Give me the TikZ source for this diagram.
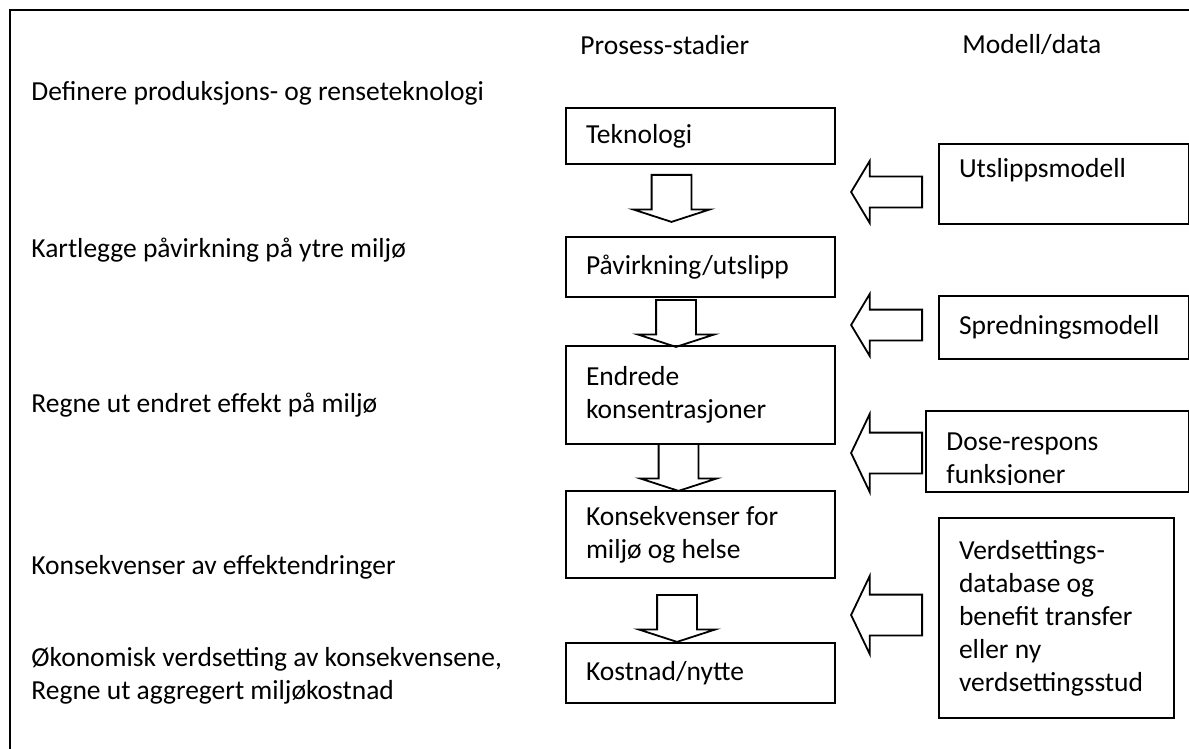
\documentclass[tikz,border=0pt]{standalone}
\usepackage{fontspec}
\setmainfont{Carlito}
\usetikzlibrary{shapes.arrows}

\tikzset{
    boks/.style={draw, line width=1pt, rectangle, anchor=north west, align=flush left, inner xsep=10pt, inner ysep=0pt},
    tekst/.style={anchor=west, align=flush left, inner sep=0pt},
    nedpil/.style={draw, line width=0.9pt, single arrow, rotate=-90, anchor=tail, inner xsep=0pt, inner ysep=9.5pt,
        single arrow head extend=9.25pt, single arrow tip angle=144, minimum height=23.5pt},
    smalpil/.style={draw, line width=0.9pt, single arrow, rotate=180, anchor=tail, inner xsep=0pt, inner ysep=7.25pt,
        single arrow head extend=7.75pt, single arrow tip angle=118, minimum height=35.5pt},
    breipil/.style={draw, line width=0.9pt, single arrow, rotate=180, anchor=tail, inner xsep=0pt, inner ysep=9.75pt,
        single arrow head extend=9.25pt, single arrow tip angle=129, minimum height=35.5pt}
}

\begin{document}
\begin{tikzpicture}[x=0.5pt,y=-0.5pt,every node/.style={font=\fontsize{13.75}{16.5}\selectfont}]
    \useasboundingbox (0,0) rectangle (1189,749);
    \clip (0,0) rectangle (1189,749);
    \draw[line width=1pt] (10,10) rectangle (1220,780);

    % overskrifter
    \node[tekst] (hprosess) at (580,45) {Prosess-stadier};
    \node[tekst] (hmodell) at (962,45) {Modell/data};

    % trinn til venstre
    \node[tekst] (trinn1) at (31,93) {Definere produksjons- og renseteknologi};
    \node[tekst] (trinn2) at (31,250) {Kartlegge påvirkning på ytre miljø};
    \node[tekst] (trinn3) at (31,405) {Regne ut endret effekt på miljø};
    \node[tekst] (trinn4) at (31,567) {Konsekvenser av effektendringer};
    \node[tekst] (trinn5) at (31,676) {Økonomisk verdsetting av konsekvensene,\\Regne ut aggregert miljøkostnad};

    % prosess-stadier
    \node[boks, text width=114.5pt, minimum height=28pt] (tek) at (565,107) {Teknologi};
    \node[boks, text width=114.5pt, minimum height=30pt] (pav) at (565,236) {Påvirkning/utslipp};
    \node[boks, text width=114.5pt, minimum height=49pt] (endr) at (565,345) {Endrede\\konsentrasjoner};
    \node[boks, text width=114.5pt, minimum height=43.5pt] (kons) at (565,490) {Konsekvenser for\\miljø og helse};
    \node[boks, text width=114.5pt, minimum height=30pt] (kost) at (565,642) {Kostnad/nytte};

    \node[nedpil] (ned1) at (671.5,174) {};
    \node[nedpil] (ned2) at (676,299) {};
    \node[nedpil] (ned3) at (678.5,443) {};
    \node[nedpil] (ned4) at (677,594) {};

    % modell/data
    \node[boks, text width=105pt, minimum height=40pt] (utsl) at (938,143) {Utslippsmodell\\\mbox{}};
    \node[boks, text width=105pt, minimum height=31.5pt] (spred) at (938,295) {Spredningsmodell};
    \node[boks, text width=111.5pt, minimum height=40.5pt] (dose) at (925,410) {};
    \begin{scope}
        \clip (dose.north west) rectangle ([yshift=4.5pt]dose.south east);
        \node[tekst] (doset) at (946,461) {Dose-respons\\funksjoner};
    \end{scope}
    \node[boks, text width=97.5pt, minimum height=100pt] (verd) at (938,517) {Verdsettings-\\database og\\benefit transfer\\eller ny\\verdsettingsstud};

    \node[smalpil] (inn1) at (923,192) {};
    \node[smalpil] (inn2) at (923,325) {};
    \node[breipil] (inn3) at (923,453) {};
    \node[breipil] (inn4) at (923,615) {};
\end{tikzpicture}
\end{document}
